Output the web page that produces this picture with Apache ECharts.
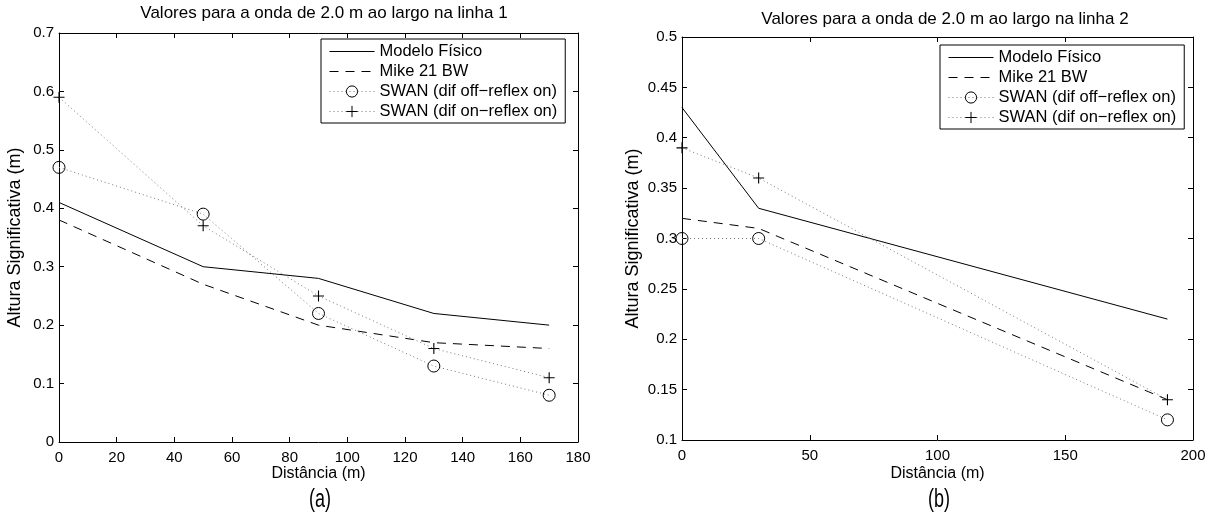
<!DOCTYPE html>
<html>
<head>
<meta charset="utf-8">
<script src="https://cdn.jsdelivr.net/npm/echarts@6/dist/echarts.min.js"></script>
<style>html,body{margin:0;padding:0;background:#fff}#c{width:1212px;height:518px}</style>
</head>
<body>
<div id="c"></div>
<script>
// ---- data ----
const titles = ['Valores para a onda de 2.0 m ao largo na linha 1', 'Valores para a onda de 2.0 m ao largo na linha 2'];
const captions = ['(a)', '(b)'];
const seriesNames = ['Modelo Físico', 'Mike 21 BW', 'SWAN (dif off\u2212reflex on)', 'SWAN (dif on\u2212reflex on)'];
const xName = 'Distância (m)';
const yName = 'Altura Significativa (m)';

const x1 = [0, 50, 90, 130, 170];
const modelo1 = [0.41, 0.30, 0.28, 0.22, 0.20];
const mike1 = [0.38, 0.27, 0.20, 0.17, 0.16];
const swanOff1 = [0.47, 0.39, 0.22, 0.13, 0.08];
const swanOn1 = [0.59, 0.37, 0.25, 0.16, 0.11];

const x2 = [0, 30, 190];
const modelo2 = [0.43, 0.33, 0.22];
const mike2 = [0.32, 0.31, 0.14];
const swanOff2 = [0.30, 0.30, 0.12];
const swanOn2 = [0.39, 0.36, 0.14];

const axisRanges = [
  {xMin: 0, xMax: 180, xInt: 20, yMin: 0, yMax: 0.7, yInt: 0.1},
  {xMin: 0, xMax: 200, xInt: 50, yMin: 0.1, yMax: 0.5, yInt: 0.05}
];

// ---- build ----
const FONT = '"Liberation Sans", Arial, Helvetica, sans-serif';
const chart = echarts.init(document.getElementById('c'), null, {renderer: 'canvas'});
const pair = (xs, ys) => xs.map((x, i) => [x, ys[i]]);
const plus = 'path://M5,0L5,10M0,5L10,5';

const grids = [
  {left: 59, top: 33, width: 519, height: 409},
  {left: 682, top: 37, width: 511, height: 403}
];

const fmt = v => String(+v.toFixed(2));

function axisPair(kind, gi, r) {
  const isX = kind === 'x';
  const base = {
    type: 'value', gridIndex: gi,
    min: isX ? r.xMin : r.yMin, max: isX ? r.xMax : r.yMax, interval: isX ? r.xInt : r.yInt,
    splitLine: {show: false},
    axisLine: {show: true, onZero: false, lineStyle: {color: '#000', width: 1}},
    axisTick: {show: true, inside: true, length: 5, lineStyle: {color: '#000'}},
  };
  const main = Object.assign({}, base, {
    position: isX ? 'bottom' : 'left',
    axisLabel: {show: true, color: '#000', fontSize: 15, fontFamily: FONT, margin: isX ? 8 : 5, formatter: fmt},
    name: isX ? xName : yName,
    nameLocation: 'middle',
    nameMoveOverlap: false,
    nameGap: isX ? (gi === 0 ? 24 : 26) : (gi === 0 ? 35 : 40),
    nameTextStyle: {color: '#000', fontSize: isX ? 16 : 18, fontFamily: FONT}
  });
  const mirror = Object.assign({}, base, {
    position: isX ? 'top' : 'right',
    axisLabel: {show: false}
  });
  return [main, mirror];
}

const xAxis = [], yAxis = [];
axisRanges.forEach((r, gi) => {
  xAxis.push(...axisPair('x', gi, r));
  yAxis.push(...axisPair('y', gi, r));
});

function makeSeries(gi, xs, modelo, mike, off, on) {
  const ax = gi * 2;
  const common = {type: 'line', xAxisIndex: ax, yAxisIndex: ax, clip: false, animation: false, silent: true};
  return [
    Object.assign({}, common, {name: seriesNames[0], data: pair(xs, modelo), symbol: 'none',
      itemStyle: {color: '#000'}, lineStyle: {color: '#000', width: 1, type: 'solid'}}),
    Object.assign({}, common, {name: seriesNames[1], data: pair(xs, mike), symbol: 'none',
      itemStyle: {color: '#000'}, lineStyle: {color: '#000', width: 1, type: [9, 7]}}),
    Object.assign({}, common, {name: seriesNames[2], data: pair(xs, off), symbol: 'circle', symbolSize: 12, showSymbol: true,
      itemStyle: {color: 'rgba(0,0,0,0)', borderColor: '#000', borderWidth: 1},
      lineStyle: {color: '#777', width: 1, type: [1, 3]}}),
    Object.assign({}, common, {name: seriesNames[3], data: pair(xs, on), symbol: plus, symbolSize: 11, showSymbol: true,
      itemStyle: {color: 'rgba(0,0,0,0)', borderColor: '#000', borderWidth: 1.1},
      lineStyle: {color: '#777', width: 1, type: [1, 3]}})
  ];
}

const series = [
  ...makeSeries(0, x1, modelo1, mike1, swanOff1, swanOn1),
  ...makeSeries(1, x2, modelo2, mike2, swanOff2, swanOn2)
];

const hidden = {color: 'rgba(0,0,0,0)', borderColor: 'rgba(0,0,0,0)', borderWidth: 0, opacity: 0};
const legendData = seriesNames.map((n, i) => i < 2 ? {name: n, itemStyle: hidden} : {name: n, itemStyle: {borderWidth: 1}});

const legendBase = {
  orient: 'vertical', data: legendData, selectedMode: false,
  borderColor: '#000', borderWidth: 1, borderRadius: 0, backgroundColor: '#fff',
  padding: [4, 8, 3, 8], itemWidth: 45, itemHeight: 14, itemGap: 3,
  lineStyle: {width: 1},
  textStyle: {color: '#000', fontSize: 16.5, lineHeight: 15.5, fontFamily: FONT, padding: [0, 0, 0, 0]}
};

const capFont = '25px "Liberation Sans", sans-serif';
const option = {
  animation: false,
  backgroundColor: '#fff',
  title: [
    {text: titles[0], left: 319, top: 0, textAlign: 'center', textStyle: {color: '#000', fontSize: 17, fontWeight: 'normal', fontFamily: FONT}},
    {text: titles[1], left: 940, top: 6, textAlign: 'center', textStyle: {color: '#000', fontSize: 17, fontWeight: 'normal', fontFamily: FONT}}
  ],
  grid: grids,
  xAxis, yAxis,
  legend: [
    Object.assign({}, legendBase, {left: 321, top: 39}),
    Object.assign({}, legendBase, {left: 940, top: 45})
  ],
  graphic: [
    {type: 'text', x: 320, y: 500, scaleX: 0.72, style: {text: captions[0], font: capFont, fill: '#000', align: 'center', verticalAlign: 'middle'}},
    {type: 'text', x: 939, y: 500, scaleX: 0.72, style: {text: captions[1], font: capFont, fill: '#000', align: 'center', verticalAlign: 'middle'}}
  ],
  series
};
chart.setOption(option);
</script>
</body>
</html>
